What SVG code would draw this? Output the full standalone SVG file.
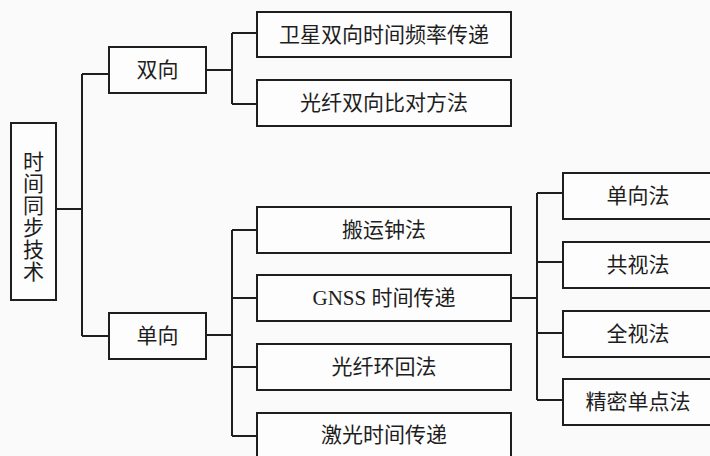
<svg xmlns="http://www.w3.org/2000/svg" width="710" height="456" viewBox="0 0 710 456">
<style>
.box{fill:#fdfdfd;stroke:#1e1e1e;stroke-width:2}
.t{font-family:"Liberation Serif","Noto Sans CJK SC",serif;font-size:21px;fill:#1e1e1e;text-anchor:middle;dominant-baseline:central}
.c{fill:none;stroke:#1e1e1e;stroke-width:2}
</style>
<rect width="710" height="456" fill="#fafafa"/>
<g id="connectors" class="c">
<path d="M56 209H82M82 74V336M82 74H109M82 336H109"/>
<path d="M206 70H232M232 33V104M232 33H257M232 104H257"/>
<path d="M206 335H232M232 230V436M232 230H257M232 298H257M232 367H257M232 436H257"/>
<path d="M511 298H537M537 193V400M537 193H563M537 262H563M537 333H563M537 400H563"/>
</g>
<g id="root"><rect class="box" x="11" y="123" width="45" height="177"/>
<text class="t" x="33.5" y="162">时</text><text class="t" x="33.5" y="184">间</text><text class="t" x="33.5" y="206">同</text><text class="t" x="33.5" y="228">步</text><text class="t" x="33.5" y="250">技</text><text class="t" x="33.5" y="272">术</text></g>
<g id="shuangxiang"><rect class="box" x="109" y="47" width="97" height="46"/><text class="t" x="157.5" y="70">双向</text></g>
<g id="danxiang"><rect class="box" x="109" y="313" width="97" height="46"/><text class="t" x="157.5" y="336">单向</text></g>
<g id="weixing"><rect class="box" x="257" y="12" width="254" height="45"/><text class="t" x="384" y="34.5">卫星双向时间频率传递</text></g>
<g id="guangxian-sx"><rect class="box" x="257" y="80" width="254" height="46"/><text class="t" x="384" y="103">光纤双向比对方法</text></g>
<g id="banyun"><rect class="box" x="257" y="207" width="254" height="46"/><text class="t" x="384" y="230">搬运钟法</text></g>
<g id="gnss"><rect class="box" x="257" y="275" width="254" height="46"/><text class="t" x="384" y="298">GNSS 时间传递</text></g>
<g id="guangxian-hh"><rect class="box" x="257" y="344" width="254" height="46"/><text class="t" x="384" y="367">光纤环回法</text></g>
<g id="jiguang"><rect class="box" x="257" y="413" width="254" height="48"/><text class="t" x="384" y="435">激光时间传递</text></g>
<g id="dxf"><rect class="box" x="563" y="173" width="152" height="46"/><text class="t" x="638" y="196">单向法</text></g>
<g id="gsf"><rect class="box" x="563" y="242" width="152" height="46"/><text class="t" x="638" y="265">共视法</text></g>
<g id="qsf"><rect class="box" x="563" y="311" width="152" height="46"/><text class="t" x="638" y="334">全视法</text></g>
<g id="jmdd"><rect class="box" x="563" y="379" width="152" height="46"/><text class="t" x="638" y="402">精密单点法</text></g>
</svg>
